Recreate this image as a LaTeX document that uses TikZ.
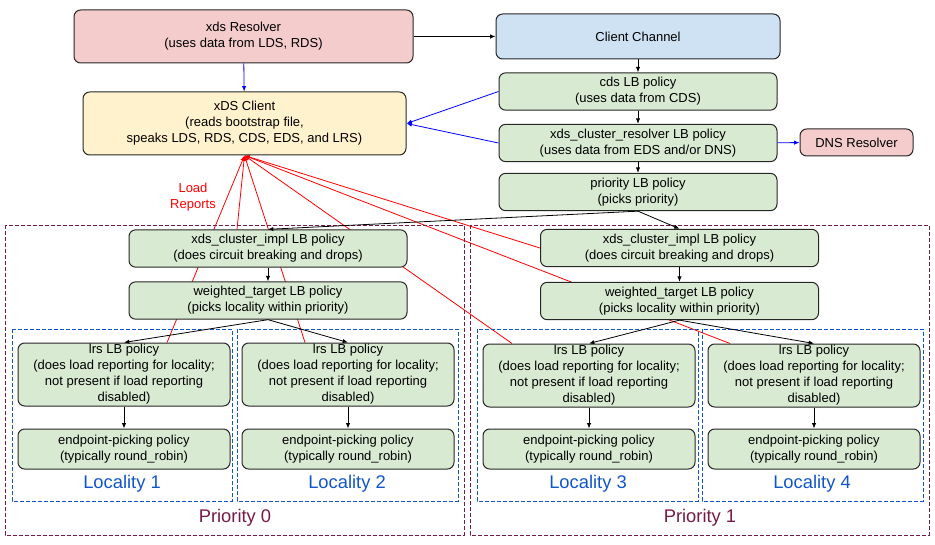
\documentclass[tikz,border=0pt]{standalone}
\usepackage{fontspec}
\setmainfont{Liberation Sans}
\usetikzlibrary{arrows.meta,backgrounds}
\definecolor{lbgreen}{HTML}{D9EAD3}
\definecolor{respink}{HTML}{F4CCCC}
\definecolor{chblue}{HTML}{CFE2F3}
\definecolor{cliyellow}{HTML}{FFF2CC}
\definecolor{locblue}{HTML}{1155CC}
\definecolor{primaroon}{HTML}{741B47}
\tikzset{
	box/.style={draw=black!85, line width=0.75pt, rounded corners=5pt, align=center, inner sep=0pt, font=\fontsize{9.75}{12}\selectfont},
	lbbox/.style={box, fill=lbgreen, minimum width=208.5pt, minimum height=28pt},
	lrsbox/.style={box, fill=lbgreen, minimum width=159pt, minimum height=47.25pt},
	epbox/.style={box, fill=lbgreen, minimum width=159pt, minimum height=30pt},
	priframe/.style={draw=primaroon, line width=0.6pt, dash pattern=on 3pt off 1.5pt},
	locframe/.style={draw=locblue, line width=0.6pt, dash pattern=on 3pt off 1.5pt},
	biglabel/.style={font=\fontsize{13.75}{16}\selectfont},
	arr/.style={-{Latex[length=4pt,width=3.2pt]}, line width=0.6pt},
}
\begin{document}
\begin{tikzpicture}[x=0.75pt, y=-0.75pt]
	\useasboundingbox (0,0) rectangle (935,545);

	% --- Haut ---
	\node[box, fill=respink, minimum width=254.25pt, minimum height=39.75pt] (resolver) at (243.5,36.5) {xds Resolver\\(uses data from LDS, RDS)};
	\node[box, fill=cliyellow, minimum width=242.25pt, minimum height=47.25pt] (client) at (244.5,123.5) {xDS Client\\(reads bootstrap file,\\speaks LDS, RDS, CDS, EDS, and LRS)};
	\node[box, fill=chblue, minimum width=213pt, minimum height=33.75pt] (channel) at (638,36.5) {Client Channel};
	\node[lbbox] (cds) at (638,91.5) {cds LB policy\\(uses data from CDS)};
	\node[lbbox] (cres) at (638,143) {xds\_cluster\_resolver LB policy\\(uses data from EDS and/or DNS)};
	\node[box, fill=respink, minimum width=84.75pt, minimum height=20.25pt] (dns) at (856.5,142.5) {DNS Resolver};
	\node[lbbox] (prio) at (638,192) {priority LB policy\\(picks priority)};
	\node[box, draw=none, text=red] (loadrep) at (193,197) {Load\\Reports};

	% --- Priorites ---
	\draw[priframe] (5,225) rectangle (464,535);
	\draw[priframe] (470,225) rectangle (929,535);
	\node[biglabel, text=primaroon] (pri0) at (235,518) {Priority 0};
	\node[biglabel, text=primaroon] (pri1) at (700,518) {Priority 1};

	\node[lbbox] (implA) at (268,248.5) {xds\_cluster\_impl LB policy\\(does circuit breaking and drops)};
	\node[lbbox] (wtA) at (268,300.5) {weighted\_target LB policy\\(picks locality within priority)};
	\node[lbbox] (implB) at (679.5,248) {xds\_cluster\_impl LB policy\\(does circuit breaking and drops)};
	\node[lbbox] (wtB) at (679.5,301) {weighted\_target LB policy\\(picks locality within priority)};

	% --- Localites ---
	\draw[locframe] (12,329) rectangle (232,501);
	\draw[locframe] (237,329) rectangle (458,501);
	\draw[locframe] (477,329) rectangle (698,501);
	\draw[locframe] (702,329) rectangle (923,501);

	\node[lrsbox] (lrsA) at (124,374.5) {lrs LB policy\\(does load reporting for locality;\\not present if load reporting\\disabled)};
	\node[lrsbox] (lrsB) at (348,374.5) {lrs LB policy\\(does load reporting for locality;\\not present if load reporting\\disabled)};
	\node[lrsbox] (lrsC) at (589,375.5) {lrs LB policy\\(does load reporting for locality;\\not present if load reporting\\disabled)};
	\node[lrsbox] (lrsD) at (814,375.5) {lrs LB policy\\(does load reporting for locality;\\not present if load reporting\\disabled)};
	\node[epbox] (epA) at (124,449) {endpoint-picking policy\\(typically round\_robin)};
	\node[epbox] (epB) at (348,449) {endpoint-picking policy\\(typically round\_robin)};
	\node[epbox] (epC) at (589,449) {endpoint-picking policy\\(typically round\_robin)};
	\node[epbox] (epD) at (814,449) {endpoint-picking policy\\(typically round\_robin)};
	\node[biglabel, text=locblue] (loc1) at (122,484) {Locality 1};
	\node[biglabel, text=locblue] (loc2) at (347,484) {Locality 2};
	\node[biglabel, text=locblue] (loc3) at (588,484) {Locality 3};
	\node[biglabel, text=locblue] (loc4) at (812,484) {Locality 4};

	% --- Fleches ---
	\draw[arr] (resolver) -- (channel);
	\draw[arr, blue] (resolver) -- (client);
	\draw[arr] (channel) -- (cds);
	\draw[arr] (cds) -- (cres);
	\draw[arr] (cres) -- (prio);
	\draw[arr, blue] (cres) -- (dns);
	\draw[arr, blue] (cds.west) -- (client.east);
	\draw[arr, blue] (cres.west) -- (client.east);
	\draw[arr] (prio.south) -- (implA.north);
	\draw[arr] (prio.south) -- (implB.north);
	\draw[arr] (implA) -- (wtA);
	\draw[arr] (implB) -- (wtB);
	\draw[arr] (wtA.south) -- (lrsA.north);
	\draw[arr] (wtA.south) -- (lrsB.north);
	\draw[arr] (wtB.south) -- (lrsC.north);
	\draw[arr] (wtB.south) -- (lrsD.north);
	\draw[arr] (lrsA) -- (epA);
	\draw[arr] (lrsB) -- (epB);
	\draw[arr] (lrsC) -- (epC);
	\draw[arr] (lrsD) -- (epD);

	% --- Rapports de charge ---
	\begin{scope}[on background layer]
		\draw[arr, red] ([xshift=-23.25pt]implA.north) -- (client.south);
		\draw[arr, red] (implB.west) -- (client.south);
		\draw[arr, red] ([xshift=32.25pt]lrsA.north) -- (client.south);
		\draw[arr, red] ([xshift=-32.25pt]lrsB.north) -- (client.south);
		\draw[arr, red] ([xshift=-57.75pt]lrsC.north) -- (client.south);
		\draw[arr, red] ([xshift=-63pt]lrsD.north) -- (client.south);
	\end{scope}
\end{tikzpicture}
\end{document}
